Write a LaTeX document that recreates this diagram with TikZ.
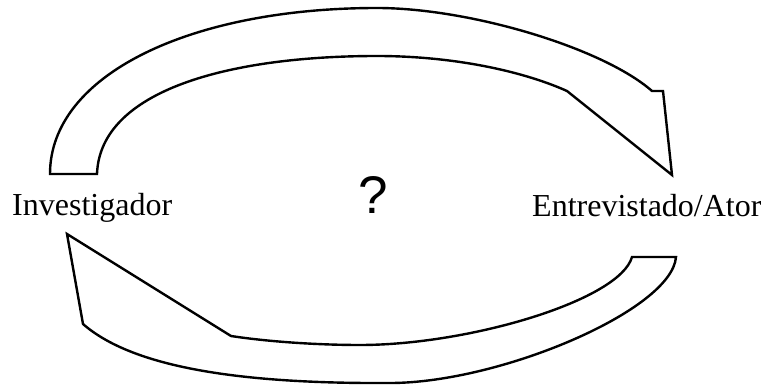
\documentclass[tikz,border=0pt]{standalone}
\usepackage{fontspec}
\setmainfont{Liberation Serif}
\newfontfamily\qfont{Liberation Sans}
\begin{document}
\begin{tikzpicture}[x=1pt,y=-1pt,
  arrowshape/.style={draw=black,line width=2.4pt,line join=miter,fill=white},
  lbl/.style={inner sep=0pt,anchor=base west,font=\fontsize{32}{38}\selectfont}]
\useasboundingbox (0,0) rectangle (761,385);
% top arrow: Investigador -> Entrevistado/Ator
\draw[arrowshape] (50,174) .. controls (50,75) and (190,8) .. (377,8)
  .. controls (470,8) and (603,48) .. (652,91)
  -- (663,91) -- (672,175) -- (567,91)
  .. controls (520,70) and (450,56) .. (377,56)
  .. controls (230,56) and (100,90) .. (97,174)
  -- cycle;
% bottom arrow: Entrevistado/Ator -> Investigador
\draw[arrowshape] (67,234) -- (83,324)
  .. controls (130,365) and (230,384) .. (390,383)
  .. controls (500,383) and (672,310) .. (676,257)
  -- (632,257)
  .. controls (620,300) and (470,345) .. (360,345)
  .. controls (320,345) and (270,342) .. (231,336)
  -- cycle;
\node[lbl] (inv) at (12,215) {Investigador};
\node[lbl] (ent) at (532,217) {Entrevistado/Ator};
\node[inner sep=0pt,anchor=base west,font=\qfont\fontsize{53}{60}\selectfont] (q) at (358,214) {?};
\end{tikzpicture}
\end{document}
